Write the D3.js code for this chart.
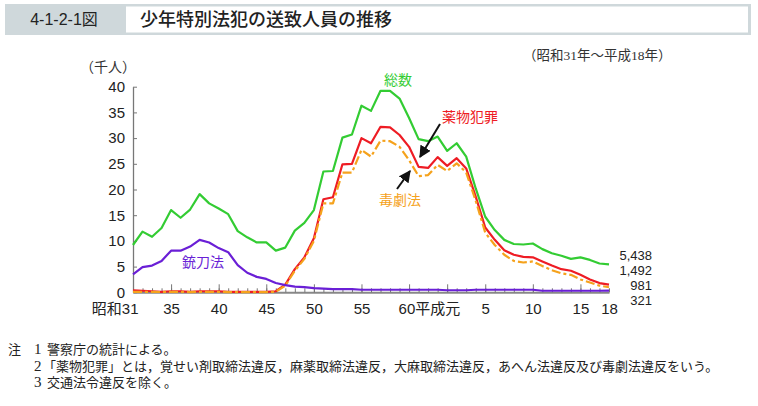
<!DOCTYPE html>
<html><head><meta charset="utf-8">
<script src="https://cdn.jsdelivr.net/npm/d3@7"></script>
<style>body{margin:0;background:#fff} svg{display:block}</style>
</head><body><svg id="c" width="758" height="406"></svg>
<script>
const years = ["昭和31","昭和32","昭和33","昭和34","昭和35","昭和36","昭和37","昭和38","昭和39","昭和40",
  "昭和41","昭和42","昭和43","昭和44","昭和45","昭和46","昭和47","昭和48","昭和49","昭和50",
  "昭和51","昭和52","昭和53","昭和54","昭和55","昭和56","昭和57","昭和58","昭和59","昭和60",
  "昭和61","昭和62","昭和63","平成元","平成2","平成3","平成4","平成5","平成6","平成7",
  "平成8","平成9","平成10","平成11","平成12","平成13","平成14","平成15","平成16","平成17","平成18"];
// 総数 (thousand persons)
const total = [9.2,11.8,10.8,12.5,16.0,14.5,16.1,19.1,17.3,16.3,
  15.2,11.9,10.7,9.7,9.7,8.1,8.7,12.0,13.5,16.0,
  23.5,23.6,30.1,30.7,36.3,35.3,39.2,39.2,37.7,33.9,
  29.8,29.4,30.3,27.5,29.0,26.4,20.2,14.7,12.1,10.2,
  9.4,9.3,9.5,8.4,7.6,7.1,6.5,6.8,6.3,5.6,5.438];
// 薬物犯罪
const drug = [0.4,0.3,0.2,0.1,0.2,0.2,0.1,0.2,0.2,0.2,
  0.1,0.1,0.1,0.1,0.1,0.2,1.5,4.5,6.8,10.5,
  18.1,18.5,24.9,25.0,30.0,29.0,32.2,32.1,30.6,28.3,
  24.4,24.2,26.3,24.6,26.1,24.1,18.6,12.6,10.2,8.2,
  7.3,6.9,6.8,6.0,5.2,4.5,4.2,3.4,2.5,1.8,1.492];
// 毒劇法
const poison = [0.1,0.1,0.1,0.05,0.1,0.1,0.05,0.1,0.1,0.1,
  0.05,0.05,0.05,0.05,0.05,0.1,1.3,4.2,6.5,10.0,
  17.3,17.3,23.3,23.3,27.7,26.4,29.5,29.4,28.3,25.7,
  22.6,22.8,24.8,23.6,25.1,23.3,17.8,11.6,9.2,7.3,
  6.1,5.8,6.0,5.1,4.3,3.7,3.4,2.5,1.9,1.3,0.981];
// 銃刀法
const sword = [3.5,4.9,5.2,6.1,8.1,8.1,8.9,10.2,9.7,8.6,
  7.8,5.3,3.8,3.0,2.6,1.8,1.4,1.1,1.0,0.8,
  0.7,0.6,0.6,0.6,0.5,0.5,0.5,0.5,0.5,0.5,
  0.5,0.5,0.5,0.4,0.4,0.4,0.5,0.5,0.5,0.5,
  0.5,0.5,0.5,0.3,0.3,0.3,0.3,0.3,0.3,0.3,0.321];
const endLabels = ["5,438","1,492","981","321"];
const yTicks = [0,5,10,15,20,25,30,35,40];
const labelCats = ["昭和31","昭和35","昭和40","昭和45","昭和50","昭和55","昭和60","平成5","平成10","平成15","平成18"];
const labelText = ["昭和31","35","40","45","50","55","60平成元","5","10","15","18"];
const majorCats = ["昭和35","昭和40","昭和45","昭和50","昭和55","昭和60","平成元","平成5","平成10","平成15"];
const notes = ["警察庁の統計による。",
  "「薬物犯罪」とは，覚せい剤取締法違反，麻薬取締法違反，大麻取締法違反，あへん法違反及び毒劇法違反をいう。",
  "交通法令違反を除く。"];

const svg = d3.select("#c");
const sans = "'Liberation Sans','Noto Sans CJK JP',sans-serif";
const jp = "'Noto Sans CJK JP',sans-serif";
const serif = "'Liberation Serif','Noto Sans CJK JP',serif";

// title bar
svg.append("rect").attr("x",5).attr("y",4).attr("width",746).attr("height",31).attr("fill","#cfd8db");
svg.append("rect").attr("x",126).attr("y",6.5).attr("width",622).attr("height",26).attr("fill","#fff");
svg.append("text").attr("x",64).attr("y",25).attr("text-anchor","middle")
  .attr("font-family",sans).attr("font-size",16).attr("fill","#222").text("4-1-2-1図");
svg.append("text").attr("x",140).attr("y",26).attr("font-family",jp).attr("font-size",18)
  .attr("font-weight",500).attr("fill","#222").text("少年特別法犯の送致人員の推移");
svg.append("text").attr("x",523).attr("y",60).attr("font-family",serif).attr("font-size",13.5)
  .attr("fill","#333").text("（昭和31年～平成18年）");
svg.append("text").attr("x",80).attr("y",72).attr("font-family",jp).attr("font-size",14)
  .attr("fill","#333").text("（千人）");

const x = d3.scalePoint().domain(years).range([133,609]);
const y = d3.scaleLinear().domain([0,40]).range([292.3,86.7]);

// y axis
const ya = svg.append("g").attr("transform","translate(133,0)")
  .call(d3.axisLeft(y).tickValues(yTicks).tickSize(-4).tickSizeOuter(0).tickPadding(8));
ya.select(".domain").attr("stroke","#777").attr("stroke-width",1.3);
ya.selectAll(".tick line").attr("stroke","#777");
ya.selectAll("text").attr("font-family",sans).attr("font-size",15).attr("fill","#222");

// x axis ticks
const xa1 = svg.append("g").attr("transform","translate(0,292.3)")
  .call(d3.axisBottom(x).tickValues(years).tickSize(-4).tickSizeOuter(0).tickFormat(""));
xa1.select(".domain").attr("stroke","#888").attr("stroke-width",2);
xa1.selectAll(".tick line").attr("stroke","#777");
const xa2 = svg.append("g").attr("transform","translate(0,292.3)")
  .call(d3.axisBottom(x).tickValues(majorCats).tickSize(-8).tickSizeOuter(0).tickFormat(""));
xa2.select(".domain").remove();
xa2.selectAll(".tick line").attr("stroke","#777");
const xa3 = svg.append("g").attr("transform","translate(0,292.3)")
  .call(d3.axisBottom(x).tickValues(labelCats).tickSize(0).tickPadding(11)
    .tickFormat(d => labelText[labelCats.indexOf(d)]));
xa3.select(".domain").remove();
xa3.selectAll("text").attr("font-family",sans).attr("font-size",15).attr("fill","#222");
xa3.selectAll("text").filter(d => d==="昭和31").attr("text-anchor","end").attr("x",5);
xa3.selectAll("text").filter(d => d==="昭和60").attr("text-anchor","start").attr("x",-11);

// lines
const line = d3.line().x((d,i)=>x(years[i])).y(d=>y(d));
const series = [
  {v: total, c: "#33cc33", dash: null},
  {v: drug, c: "#ee1c24", dash: null},
  {v: poison, c: "#f5a21c", dash: "9,3,3,3"},
  {v: sword, c: "#6a1fd6", dash: null}
];
series.forEach(s => {
  svg.append("path").datum(s.v).attr("d",line).attr("fill","none")
    .attr("stroke",s.c).attr("stroke-width",2.2).attr("stroke-linejoin","round")
    .attr("stroke-dasharray",s.dash);
});

// end labels
const endY = [260,275,290,305];
endLabels.forEach((t,i) => {
  svg.append("text").attr("x",652).attr("y",endY[i]).attr("text-anchor","end")
    .attr("font-family",sans).attr("font-size",13).attr("fill","#222").text(t);
});

// series labels
function lab(t,cx,cy,col){
  svg.append("text").attr("x",cx).attr("y",cy).attr("text-anchor","middle")
    .attr("dominant-baseline","central").attr("font-family",jp).attr("font-size",14)
    .attr("fill",col).text(t);
}
lab("総数",398,79,"#33cc33");
lab("薬物犯罪",470,116,"#ee1c24");
lab("毒劇法",400,199,"#f5a21c");
lab("銃刀法",203,261,"#6a1fd6");

// arrows
svg.append("defs").append("marker").attr("id","ah").attr("viewBox","0 0 10 10")
  .attr("refX",9).attr("refY",5).attr("markerWidth",6).attr("markerHeight",6)
  .attr("orient","auto").append("path").attr("d","M0,0L10,5L0,10z").attr("fill","#111");
svg.append("line").attr("x1",440).attr("y1",124).attr("x2",420).attr("y2",157)
  .attr("stroke","#111").attr("stroke-width",2).attr("marker-end","url(#ah)");
svg.append("line").attr("x1",397).attr("y1",189).attr("x2",410).attr("y2",171)
  .attr("stroke","#111").attr("stroke-width",2).attr("marker-end","url(#ah)");

// notes
const ny = [353.5,370.5,386.5];
svg.append("text").attr("x",8).attr("y",ny[0]).attr("font-family",serif).attr("font-size",13)
  .attr("fill","#222").text("注");
notes.forEach((t,i) => {
  svg.append("text").attr("x",34).attr("y",ny[i]).attr("font-family",serif).attr("font-size",15)
    .attr("fill","#222").text(String(i+1));
  svg.append("text").attr("x",47 - (i===1?4:0)).attr("y",ny[i]).attr("font-family",serif)
    .attr("font-size",13).attr("fill","#222").text(t);
});
</script></body></html>
